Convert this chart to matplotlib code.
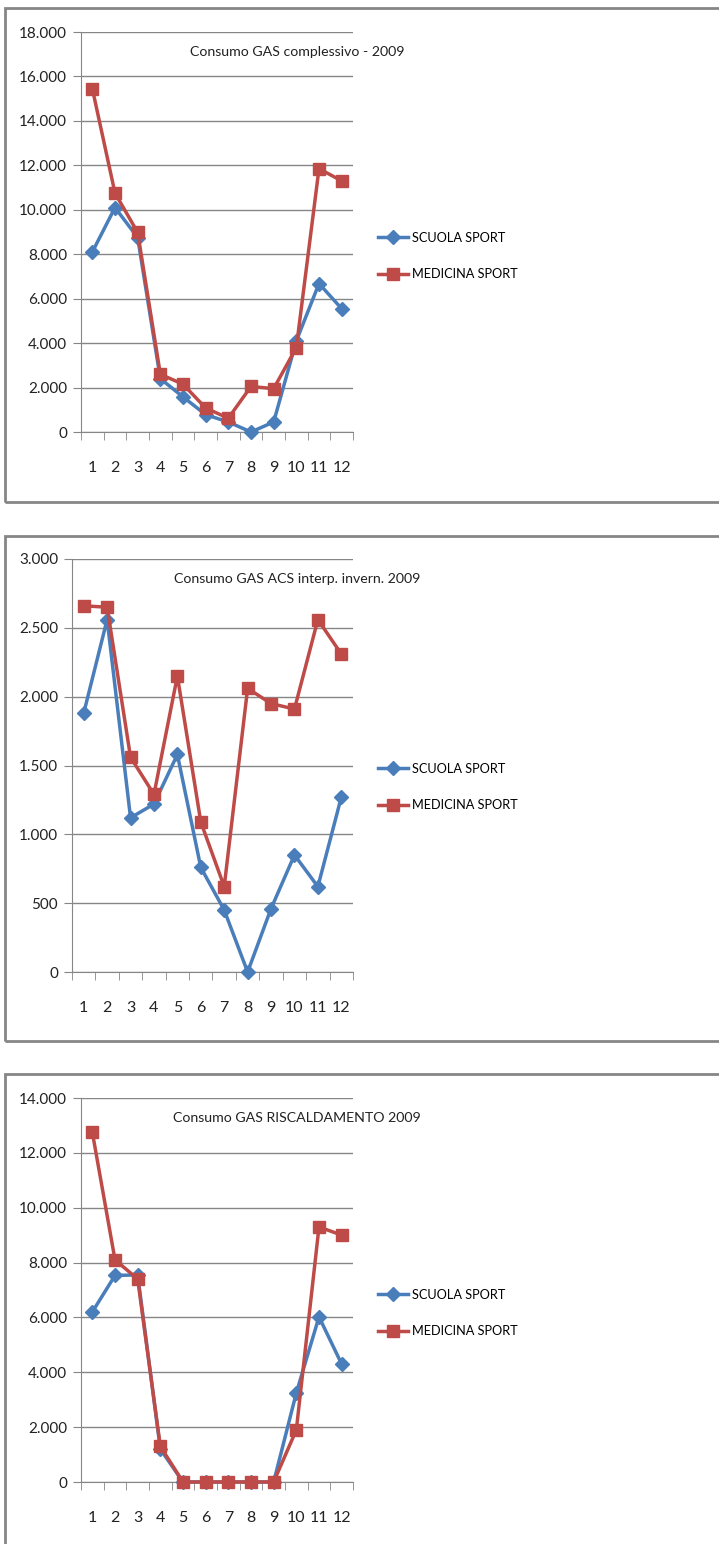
import matplotlib.pyplot as plt
from matplotlib.patches import Rectangle
from matplotlib.ticker import FuncFormatter

plt.rcParams['font.family'] = ['Lato', 'DejaVu Sans']

mesi = list(range(1, 13))

# Consumo GAS complessivo - 2009
scuola_tot = [8100, 10100, 8750, 2400, 1580, 780, 450, 0, 450, 4100, 6680, 5550]
medicina_tot = [15450, 10750, 8980, 2600, 2150, 1080, 620, 2050, 1950, 3800, 11850, 11300]

# Consumo GAS ACS interp. invern. 2009
scuola_acs = [1880, 2560, 1120, 1220, 1580, 760, 450, 0, 460, 850, 620, 1270]
medicina_acs = [2660, 2650, 1560, 1290, 2150, 1090, 620, 2060, 1950, 1910, 2560, 2310]

# Consumo GAS RISCALDAMENTO 2009
scuola_risc = [6200, 7530, 7550, 1200, 0, 0, 0, 0, 0, 3250, 6020, 4300]
medicina_risc = [12750, 8100, 7400, 1300, 0, 0, 0, 0, 0, 1900, 9300, 9000]

blu = '#4a7ebb'
rosso = '#be4b48'
grigio = '#868686'
testo = '#222222'

W, H = 719, 1544
fig = plt.figure(figsize=(W / 100, H / 100), dpi=100)


def migliaia(v, pos):
    return '{:,.0f}'.format(v).replace(',', '.')


def pannello(box, ax_px, leg_y, titolo, scuola, medicina, ymax, passo):
    # cornice del grafico (pixel: x0, y0, y1)
    x0, y0, y1 = box
    fig.patches.append(Rectangle((x0 / W, 1 - y1 / H), 1.0, (y1 - y0) / H,
                                 transform=fig.transFigure, fill=False,
                                 edgecolor=grigio, linewidth=2, clip_on=False))
    left, top, bottom = ax_px
    ax = fig.add_axes([left / W, 1 - bottom / H, (353 - left) / W, (bottom - top) / H])
    ax.plot(mesi, scuola, color=blu, linewidth=2.5, marker='D', markersize=7,
            label='SCUOLA SPORT', clip_on=False, zorder=3)
    ax.plot(mesi, medicina, color=rosso, linewidth=2.5, marker='s', markersize=9,
            label='MEDICINA SPORT', clip_on=False, zorder=4)
    ax.set_xlim(0.5, 12.5)
    ax.set_ylim(0, ymax)
    ax.set_yticks(range(0, ymax + 1, passo))
    ax.yaxis.set_major_formatter(FuncFormatter(migliaia))
    ax.set_xticks(mesi)
    ax.set_xticks([m + 0.5 for m in range(0, 13)], minor=True)
    ax.tick_params(axis='x', which='major', length=0, pad=21, labelsize=11.5, labelcolor=testo)
    ax.tick_params(axis='x', which='minor', length=6, color=grigio, direction='out')
    ax.tick_params(axis='y', length=6, color=grigio, pad=4, labelsize=11, labelcolor=testo)
    ax.grid(axis='y', color=grigio, linewidth=1)
    ax.set_axisbelow(True)
    for s in ['top', 'right']:
        ax.spines[s].set_visible(False)
    for s in ['left', 'bottom']:
        ax.spines[s].set_color(grigio)
    fig.text(297 / W, 1 - (top + 20) / H, titolo, ha='center', va='center',
             fontsize=10.2, color=testo)
    ax.legend(loc='center left', bbox_to_anchor=(378 / W, 1 - leg_y / H),
              bbox_transform=fig.transFigure, frameon=False, borderpad=0,
              borderaxespad=0, fontsize=9.2, handlelength=2.35,
              handletextpad=0.3, labelspacing=1.9)
    return ax


pannello((5, 8, 502), (81, 32, 432), 256, 'Consumo GAS complessivo - 2009',
         scuola_tot, medicina_tot, 18000, 2000)
pannello((5, 536, 1041), (72, 559, 972), 787, 'Consumo GAS ACS interp. invern. 2009',
         scuola_acs, medicina_acs, 3000, 500)
pannello((5, 1074, 1600), (81, 1098, 1482), 1313, 'Consumo GAS RISCALDAMENTO 2009',
         scuola_risc, medicina_risc, 14000, 2000)

fig.savefig('out.png', dpi=100)
